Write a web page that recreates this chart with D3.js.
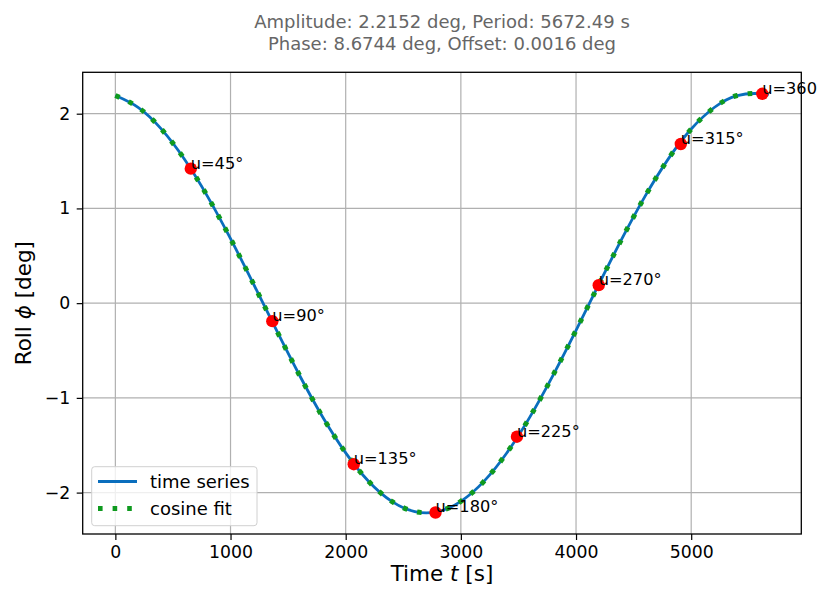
<!DOCTYPE html>
<html><head><meta charset="utf-8">
<script src="https://cdn.jsdelivr.net/npm/d3@7"></script>
<style>body{margin:0;background:#fff}svg{display:block;font-family:"DejaVu Sans",sans-serif}</style>
</head><body><svg id="c" width="818" height="592"></svg>
<script>
const titleLines = ["Amplitude: 2.2152 deg, Period: 5672.49 s", "Phase: 8.6744 deg, Offset: 0.0016 deg"];
const times = [0,200,400,600,800,1000,1200,1400,1600,1800,2000,2200,2400,2600,2800,3000,3200,3400,3600,3800,4000,4200,4400,4600,4800,5000,5200,5400,5600,5672];
const seriesValues = [2.1915,2.0645,1.8369,1.5190,1.1277,0.6811,0.2012,-0.2884,-0.7639,-1.2020,-1.5808,-1.8829,-2.0928,-2.2001,-2.1999,-2.0921,-1.8818,-1.5793,-1.2002,-0.7619,-0.2864,0.2033,0.6831,1.1295,1.5205,1.8381,2.0654,2.1918,2.2112,2.1915];
const fitValues = [2.1915,2.0645,1.8369,1.5190,1.1277,0.6811,0.2012,-0.2884,-0.7639,-1.2020,-1.5808,-1.8829,-2.0928,-2.2001,-2.1999,-2.0921,-1.8818,-1.5793,-1.2002,-0.7619,-0.2864,0.2033,0.6831,1.1295,1.5205,1.8381,2.0654,2.1918,2.2112,2.1915];
const markerLabels = ["u=45°","u=90°","u=135°","u=180°","u=225°","u=270°","u=315°","u=360°"];
const markerTimes = [655,1363,2070,2780,3487,4197,4910,5617];
const markerValues = [1.42,-0.19,-1.70,-2.21,-1.41,0.19,1.68,2.21];
const xTicks = [0,1000,2000,3000,4000,5000];
const yTicks = [-2,-1,0,1,2];
const legendLabels = ["time series","cosine fit"];

const svg = d3.select("#c");
const L=82.7, R=801.3, T=72.3, B=534;
const x = d3.scaleLinear().domain([-283.6,5956]).range([L,R]);
const y = d3.scaleLinear().domain([-2.437,2.437]).range([B,T]);
const blue="#0a6ebd", green="#0f9a1f";
const dash="4.6,10";

// title
svg.append("g").selectAll("text").data(titleLines).join("text")
  .attr("x",(L+R)/2).attr("y",(d,i)=>28+i*22).attr("text-anchor","middle")
  .attr("font-size",18).attr("fill","#666").text(d=>d);

// grid
const g = svg.append("g");
g.selectAll(".gx").data(xTicks).join("line").attr("x1",d=>x(d)).attr("x2",d=>x(d)).attr("y1",T).attr("y2",B)
  .attr("stroke","#b0b0b0").attr("stroke-width",1.2);
g.selectAll(".gy").data(yTicks).join("line").attr("y1",d=>y(d)).attr("y2",d=>y(d)).attr("x1",L).attr("x2",R)
  .attr("stroke","#b0b0b0").attr("stroke-width",1.2);

// lines
const pts = times.map((t,i)=>[t,seriesValues[i]]);
const fpts = times.map((t,i)=>[t,fitValues[i]]);
const line = d3.line().x(d=>x(d[0])).y(d=>y(d[1])).curve(d3.curveNatural);
svg.append("path").attr("d",line(pts)).attr("fill","none").attr("stroke",blue).attr("stroke-width",2.8);
svg.append("path").attr("d",line(fpts)).attr("fill","none").attr("stroke",green).attr("stroke-width",5)
  .attr("stroke-dasharray",dash);

// markers
svg.append("g").selectAll("circle").data(markerTimes).join("circle")
  .attr("cx",d=>x(d)).attr("cy",(d,i)=>y(markerValues[i])).attr("r",6.2).attr("fill","#ff0000");
svg.append("g").selectAll("text").data(markerLabels).join("text")
  .attr("x",(d,i)=>x(markerTimes[i])).attr("y",(d,i)=>y(markerValues[i]))
  .attr("font-size",16.2).attr("fill","#000").text(d=>d);

// axes
const xa = svg.append("g").attr("transform",`translate(0,${B})`)
  .call(d3.axisBottom(x).tickValues(xTicks).tickSize(6).tickPadding(6).tickFormat(d3.format("d")));
const ya = svg.append("g").attr("transform",`translate(${L},0)`)
  .call(d3.axisLeft(y).tickValues(yTicks).tickSize(6).tickPadding(6.5).tickFormat(d=>d<0?"\u2212"+Math.abs(d):d));
[xa,ya].forEach(a=>{a.select(".domain").remove();
  a.selectAll("text").attr("font-size",17.3).attr("fill","#000").attr("font-family","DejaVu Sans");
  a.selectAll("line").attr("stroke","#000").attr("stroke-width",1.2);});
svg.append("rect").attr("x",L).attr("y",T).attr("width",R-L).attr("height",B-T)
  .attr("fill","none").attr("stroke","#000").attr("stroke-width",1.3);

// axis labels
const xl = svg.append("text").attr("x",(L+R)/2).attr("y",581).attr("text-anchor","middle").attr("font-size",21.5);
xl.append("tspan").text("Time ");
xl.append("tspan").attr("font-style","italic").text("t");
xl.append("tspan").text(" [s]");
const yl = svg.append("text").attr("transform",`translate(31,${(T+B)/2}) rotate(-90)`).attr("text-anchor","middle").attr("font-size",21.5);
yl.append("tspan").text("Roll ");
yl.append("tspan").attr("font-style","italic").text("\u03D5");
yl.append("tspan").text(" [deg]");

// legend
const lg = svg.append("g");
lg.append("rect").attr("x",91.7).attr("y",466.7).attr("width",165.3).attr("height",59).attr("rx",3)
  .attr("fill","#fff").attr("fill-opacity",0.8).attr("stroke","#d0d0d0");
const items = lg.selectAll("g").data(legendLabels).join("g").attr("transform",(d,i)=>`translate(0,${481.5+i*27})`);
items.append("line").attr("x1",98).attr("x2",137).attr("y1",0).attr("y2",0)
  .attr("stroke",(d,i)=>i?green:blue).attr("stroke-width",(d,i)=>i?5:2.8).attr("stroke-dasharray",(d,i)=>i?dash:null);
items.append("text").attr("x",150).attr("y",6.3).attr("font-size",18).text(d=>d);
</script></body></html>
